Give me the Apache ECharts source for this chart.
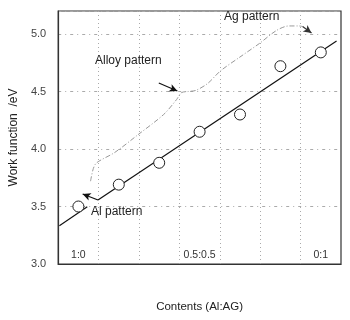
<!DOCTYPE html>
<html>
<head>
<meta charset="utf-8">
<script src="https://cdn.jsdelivr.net/npm/echarts@6/dist/echarts.min.js"></script>
<style>html,body{margin:0;padding:0;background:#fff;}#c{width:350px;height:320px;}</style>
</head>
<body>
<div id="c"></div>
<script>
// Composition categories (Al:Ag)
const categories = ['1:0', '0.83:0.17', '0.67:0.33', '0.5:0.5', '0.33:0.67', '0.17:0.83', '0:1'];
// Measured work function (eV)
const workFunction = [3.50, 3.69, 3.88, 4.15, 4.30, 4.72, 4.84];
// Fitted line, drawn in two pieces (gap near the Al arrow), x in category units
const fitLineA = [[0.03, 3.333], [0.72, 3.498]];
const fitLineB = [[0.985, 3.557], [6.89, 4.939]];
// Dashed "Alloy pattern" curve
const alloyCurve = [
  [0.80, 3.72], [0.87, 3.83], [0.95, 3.88], [1.40, 3.97], [1.96, 4.12], [2.61, 4.30],
  [2.93, 4.43], [3.05, 4.49], [3.22, 4.50], [3.41, 4.51], [3.70, 4.57], [4.02, 4.68],
  [4.50, 4.80], [4.99, 4.92], [5.40, 5.03], [5.71, 5.07], [5.96, 5.07], [6.05, 5.065]
];
// Arrows [from, to]
const alArrow = [[0.985, 3.557], [0.605, 3.609]];
const alloyArrow = [[2.49, 4.574], [2.95, 4.504]];
const agArrow = [[6.05, 5.065], [6.27, 5.009]];
// Y tick settings
const yMin = 3.0, yMax = 5.2, yStep = 0.5;

const FONT = "'Liberation Sans', Arial, sans-serif";
const chart = echarts.init(document.getElementById('c'), null, {renderer: 'canvas'});

function arrowItem(a, color) {
  return [{coord: a[0], lineStyle: {color: color, width: 1.2, type: 'solid'}}, {coord: a[1]}];
}

chart.setOption({
  animation: false,
  backgroundColor: '#fff',
  textStyle: {fontFamily: FONT},
  grid: {left: 52, right: 9, top: 11, bottom: 56, show: true, borderColor: '#333', borderWidth: 1.2},
  xAxis: [
    {
      type: 'category', data: categories, boundaryGap: true,
      name: 'Contents (Al:AG)', nameLocation: 'middle', nameGap: 37,
      nameTextStyle: {fontSize: 11.5, color: '#222', fontFamily: FONT},
      axisLine: {lineStyle: {color: '#333', width: 1.2}},
      axisTick: {show: false},
      axisLabel: {inside: true, margin: 3, fontSize: 10.5, color: '#333', fontFamily: FONT,
        interval: function (i) { return i % 3 === 0; }},
      splitLine: {show: true, interval: 0, lineStyle: {color: '#aaa', type: [1, 3], width: 1}}
    },
    {type: 'value', min: 0, max: 7, show: false}
  ],
  yAxis: {
    type: 'value', min: yMin, max: yMax, interval: yStep,
    name: 'Work function  /eV', nameLocation: 'middle', nameGap: 36,
    nameTextStyle: {fontSize: 12, color: '#222', fontFamily: FONT},
    axisLine: {show: true, lineStyle: {color: '#333', width: 1.2}},
    axisTick: {show: false},
    axisLabel: {fontSize: 11, color: '#444', margin: 12, showMaxLabel: false, fontFamily: FONT,
      formatter: function (v) { return v.toFixed(1); }},
    splitLine: {show: true, lineStyle: {color: '#aaa', type: [3, 4, 1, 4], width: 1}}
  },
  series: [
    {
      type: 'line', xAxisIndex: 1, data: fitLineA, symbol: 'none',
      lineStyle: {color: '#111', width: 1.2}, z: 3
    },
    {
      type: 'line', xAxisIndex: 1, data: fitLineB, symbol: 'none',
      lineStyle: {color: '#111', width: 1.2}, z: 3
    },
    {
      type: 'line', xAxisIndex: 1, data: alloyCurve, symbol: 'none', smooth: 0.3,
      lineStyle: {color: '#999', width: 1, type: [5, 2, 1, 2]}, z: 3,
      markLine: {
        silent: true, symbol: ['none', 'arrow'], symbolSize: [6, 8],
        label: {show: false},
        data: [arrowItem(alArrow, '#111'), arrowItem(alloyArrow, '#111'), arrowItem(agArrow, '#333')]
      }
    },
    {
      type: 'scatter', xAxisIndex: 0, data: workFunction,
      symbol: 'circle', symbolSize: 11,
      itemStyle: {color: '#fff', borderColor: '#222', borderWidth: 1, opacity: 1}, z: 5
    }
  ],
  graphic: [
    {type: 'text', z: 100, style: {x: 95, y: 61, text: 'Alloy pattern', fill: '#222', fontSize: 12, fontFamily: FONT, textVerticalAlign: 'middle'}},
    {type: 'text', z: 100, style: {x: 224, y: 17, text: 'Ag pattern', fill: '#222', fontSize: 12, fontFamily: FONT, textVerticalAlign: 'middle'}},
    {type: 'text', z: 100, style: {x: 91, y: 212, text: 'Al pattern', fill: '#222', fontSize: 12, fontFamily: FONT, textVerticalAlign: 'middle'}}
  ]
});
</script>
</body>
</html>
